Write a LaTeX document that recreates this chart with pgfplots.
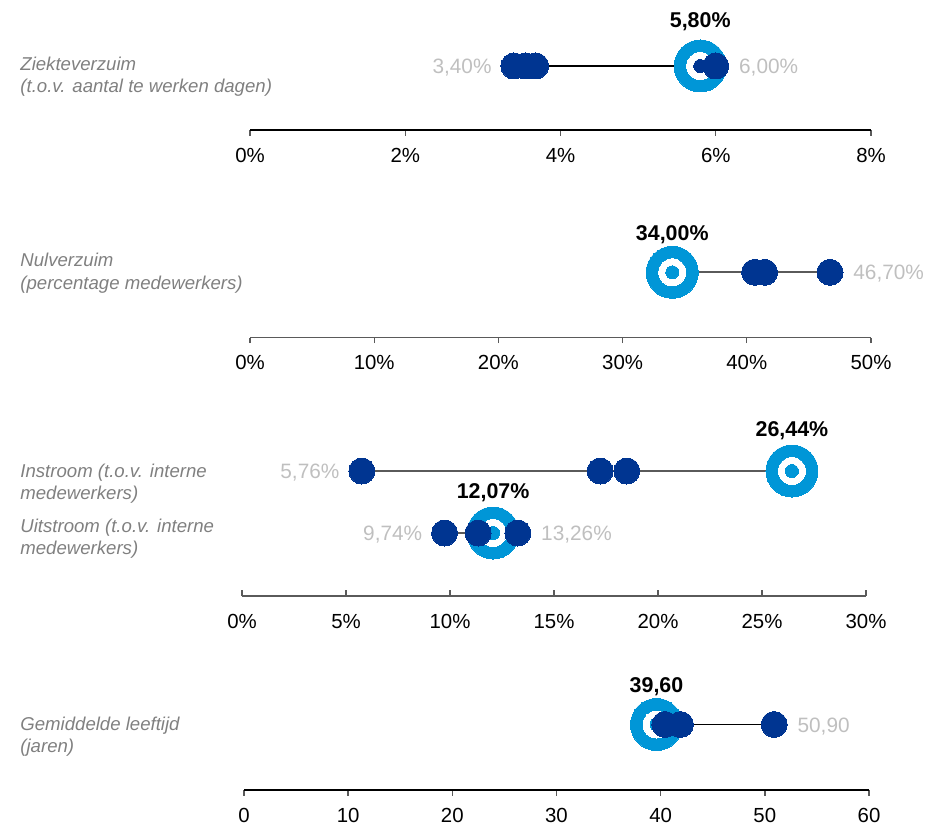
\documentclass[border=0pt]{standalone}
\usepackage{pgfplots}
\pgfplotsset{compat=1.18}
\usepackage{fontspec}
\setmainfont{Liberation Sans}
\definecolor{dkblue}{RGB}{0,53,145}
\definecolor{ltblue}{RGB}{0,150,215}
\definecolor{catgray}{RGB}{128,128,128}
\definecolor{valgray}{RGB}{191,191,191}
\definecolor{axgray}{RGB}{90,90,90}

\pgfplotsset{
  dumb/.style={
    scale only axis, clip=false,
    axis x line=bottom, axis y line=none,
    x axis line style={-, line width=0.7pt},
    ytick=\empty,
    ymin=0,
    tick align=outside,
    major tick length=2.75pt,
    xtick style={line width=0.7pt, color=axgray},
    xticklabel style={font=\fontsize{10.2}{12}\selectfont, anchor=base, yshift=-13.25pt},
  },
}
\tikzset{
  ring/.style={only marks, mark=*, mark size=13pt, color=ltblue, mark options={draw=ltblue, fill=ltblue, line width=0pt}},
  ringw/.style={only marks, mark=*, mark size=6.75pt, color=white, mark options={draw=white, fill=white, line width=0pt}},
  ringc/.style={only marks, mark=*, mark size=3.25pt, color=#1, mark options={draw=#1, fill=#1, line width=0pt}},
  dots/.style={only marks, mark=*, mark size=6.5pt, color=dkblue, mark options={draw=dkblue, fill=dkblue, line width=0pt}},
  vall/.style={anchor=base east, inner sep=0pt, xshift=-11pt, yshift=-3.8pt, text=valgray, font=\fontsize{10.4}{12}\selectfont},
  valr/.style={anchor=base west, inner sep=0pt, xshift=11.5pt, yshift=-3.8pt, text=valgray, font=\fontsize{10.4}{12}\selectfont},
  valb/.style={anchor=base, inner sep=0pt, yshift=#1, font=\bfseries\fontsize{10.7}{12}\selectfont},
  cat/.style={anchor=base west, inner sep=0pt, text=catgray, font=\itshape\fontsize{9.3}{11}\selectfont},
}

\begin{document}
\begin{tikzpicture}
\path[use as bounding box] (0,0) rectangle (463pt,-412.5pt);

% Panel 1
\begin{axis}[dumb, at={(125pt,-65pt)}, anchor=south west,
  width=310.5pt, height=40pt, xmin=0, xmax=8, ymax=80,
  x axis line style={black},
  xtick={0,2,4,6,8}, xticklabels={0\%,2\%,4\%,6\%,8\%}]
\addplot[ring] coordinates {(5.8,64)};
\addplot[ringw] coordinates {(5.8,64)};
\addplot[ringc=dkblue] coordinates {(5.8,64)};
\addplot[black, line width=0.65pt] coordinates {(3.4,64) (6.0,64)};
\addplot[dots] coordinates {(3.4,64) (3.55,64) (3.68,64) (6.0,64)};
\node[vall] at (axis cs:3.4,64) {3,40\%};
\node[valr] at (axis cs:6.0,64) {6,00\%};
\node[valb=19pt] at (axis cs:5.8,64) {5,80\%};
\end{axis}

% Panel 2
\begin{axis}[dumb, at={(125pt,-168.85pt)}, anchor=south west,
  width=310.5pt, height=40pt, xmin=0, xmax=50, ymax=80,
  x axis line style={axgray},
  xtick={0,10,20,30,40,50}, xticklabels={0\%,10\%,20\%,30\%,40\%,50\%}]
\addplot[ring] coordinates {(34,65.4)};
\addplot[ringw] coordinates {(34,65.4)};
\addplot[ringc=ltblue] coordinates {(34,65.4)};
\addplot[axgray, line width=0.9pt] coordinates {(34,65.4) (46.7,65.4)};
\addplot[dots] coordinates {(40.63,65.4) (41.43,65.4) (46.7,65.4)};
\node[valr] at (axis cs:46.7,65.4) {46,70\%};
\node[valb=16pt] at (axis cs:34,65.4) {34,00\%};
\end{axis}

% Panel 3
\begin{axis}[dumb, at={(121pt,-298pt)}, anchor=south west,
  width=312pt, height=75pt, xmin=0, xmax=30, ymax=150,
  tick align=inside, major tick length=3pt,
  xticklabel style={yshift=-2.75pt},
  x axis line style={axgray},
  xtick={0,5,10,15,20,25,30}, xticklabels={0\%,5\%,10\%,15\%,20\%,25\%,30\%}]
\addplot[ring] coordinates {(26.44,125)};
\addplot[ringw] coordinates {(26.44,125)};
\addplot[ringc=ltblue] coordinates {(26.44,125)};
\addplot[axgray, line width=0.9pt] coordinates {(5.76,125) (26.44,125)};
\addplot[dots] coordinates {(5.76,125) (17.22,125) (18.5,125)};
\node[vall] at (axis cs:5.76,125) {5,76\%};
\node[valb=17.5pt] at (axis cs:26.44,125) {26,44\%};
\addplot[ring] coordinates {(12.07,63)};
\addplot[ringw] coordinates {(12.07,63)};
\addplot[ringc=ltblue] coordinates {(12.07,63)};
\addplot[axgray, line width=0.9pt] coordinates {(9.74,63) (13.26,63)};
\addplot[dots] coordinates {(9.74,63) (11.35,63) (13.26,63)};
\node[vall] at (axis cs:9.74,63) {9,74\%};
\node[valr] at (axis cs:13.26,63) {13,26\%};
\node[valb=17.5pt] at (axis cs:12.07,63) {12,07\%};
\end{axis}

% Panel 4
\begin{axis}[dumb, at={(122pt,-395pt)}, anchor=south west,
  width=312.5pt, height=40pt, xmin=0, xmax=60, ymax=80,
  x axis line style={black},
  xtick={0,10,20,30,40,50,60}, xticklabels={0,10,20,30,40,50,60}]
\addplot[ring] coordinates {(39.6,65.5)};
\addplot[ringw] coordinates {(39.6,65.5)};
\addplot[ringc=ltblue] coordinates {(39.6,65.5)};
\addplot[black, line width=0.65pt] coordinates {(39.6,65.5) (50.9,65.5)};
\addplot[dots] coordinates {(40.4,65.5) (41.9,65.5) (50.9,65.5)};
\node[valr] at (axis cs:50.9,65.5) {50,90};
\node[valb=16pt] at (axis cs:39.6,65.5) {39,60};
\end{axis}

% Category labels
\node[cat] at (10pt,-35pt) {Ziekteverzuim};
\node[cat] at (10pt,-46.2pt) {(t.o.v. aantal te werken dagen)};
\node[cat] at (10pt,-133.4pt) {Nulverzuim};
\node[cat] at (10pt,-144.6pt) {(percentage medewerkers)};
\node[cat] at (10pt,-238.5pt) {Instroom (t.o.v. interne};
\node[cat] at (10pt,-249.7pt) {medewerkers)};
\node[cat] at (10pt,-266pt) {Uitstroom (t.o.v. interne};
\node[cat] at (10pt,-277.2pt) {medewerkers)};
\node[cat] at (10pt,-365pt) {Gemiddelde leeftijd};
\node[cat] at (10pt,-376.2pt) {(jaren)};
\end{tikzpicture}
\end{document}
